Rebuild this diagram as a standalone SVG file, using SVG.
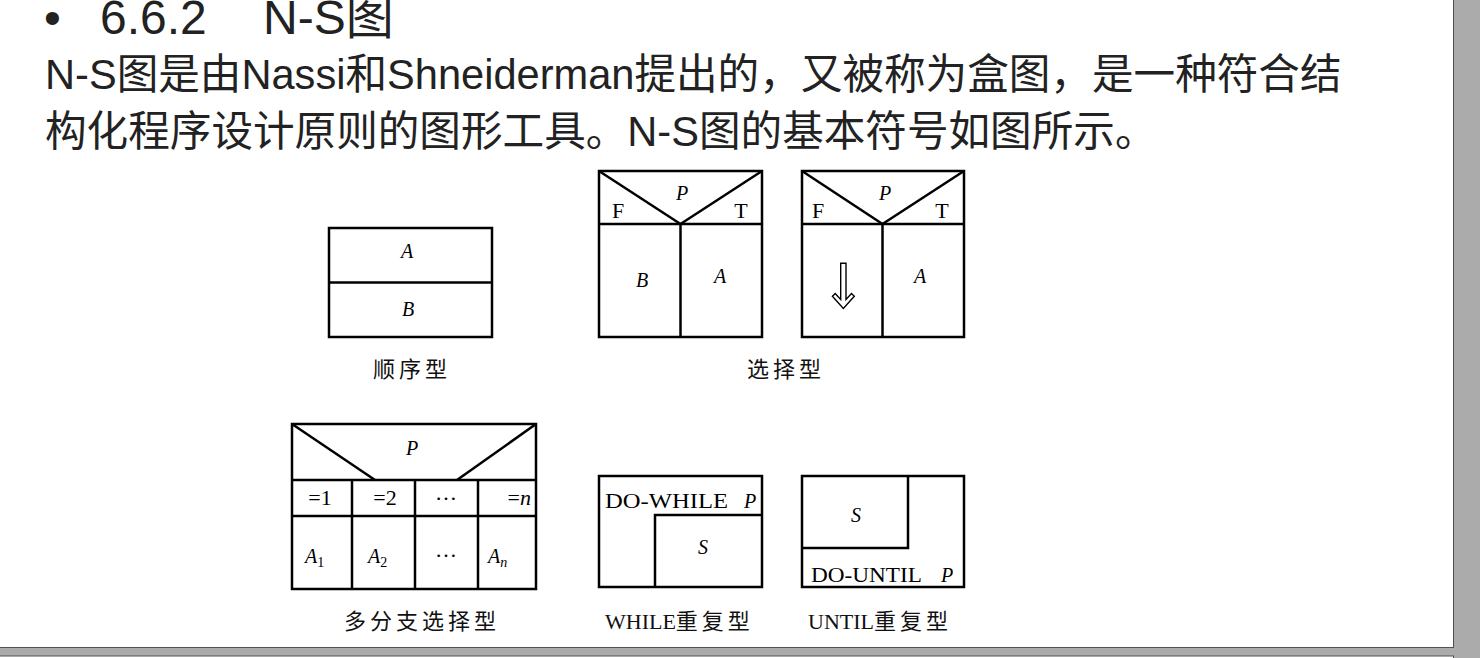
<svg xmlns="http://www.w3.org/2000/svg" width="1480" height="658" viewBox="0 0 1480 658">
  <style>
    .box { fill: none; stroke: #000; stroke-width: 2.5; }
    .ln { stroke: #000; stroke-width: 2.5; fill: none; }
    .it { font-family: "Liberation Serif", "DejaVu Serif", serif; font-style: italic; font-size: 20px; fill: #000; }
    .rm { font-family: "Liberation Serif", "DejaVu Serif", serif; font-size: 21px; fill: #000; }
    .ft { font-family: "Liberation Serif", "DejaVu Serif", serif; font-size: 22px; fill: #000; }
    .cap { font-family: "Liberation Serif", "Noto Sans CJK SC", serif; font-size: 22px; fill: #111; letter-spacing: 4px; }
    .lat { letter-spacing: 0px; }
    .head { font-family: "Liberation Sans", "Noto Sans CJK SC", sans-serif; font-size: 48px; fill: #222; }
    .body { font-family: "Liberation Sans", "Noto Sans CJK SC", sans-serif; font-size: 41.6px; fill: #222; }
  </style>

  <!-- page background and window frame -->
  <rect x="0" y="0" width="1480" height="658" fill="#ffffff"/>
  <rect x="1454" y="0" width="26" height="658" fill="#ababab"/>
  <rect x="0" y="648" width="1454" height="8" fill="#ababab"/>
  <line x1="1453.5" y1="0" x2="1453.5" y2="648" stroke="#505050" stroke-width="1"/>
  <line x1="0" y1="647.5" x2="1454" y2="647.5" stroke="#505050" stroke-width="1.2"/>
  <line x1="0" y1="656" x2="1454" y2="656" stroke="#505050" stroke-width="1"/>
  <line x1="1453.5" y1="656" x2="1453.5" y2="658" stroke="#505050" stroke-width="1"/>

  <!-- heading and paragraph -->
  <g id="title">
    <text class="head" y="34"><tspan x="44">•</tspan><tspan x="100">6.6.2</tspan><tspan x="263">N-S图</tspan></text>
    <text class="body" x="45" y="89">N-S图是由Nassi和Shneiderman提出的，又被称为盒图，是一种符合结</text>
    <text class="body" x="45" y="146">构化程序设计原则的图形工具。N-S图的基本符号如图所示。</text>
  </g>

  <!-- sequence structure -->
  <g id="sequence">
    <rect class="box" x="329" y="228" width="163" height="109"/>
    <line class="ln" x1="329" y1="282.5" x2="492" y2="282.5"/>
    <text class="it" x="407" y="258" text-anchor="middle">A</text>
    <text class="it" x="408" y="316" text-anchor="middle">B</text>
    <text class="cap" x="373" y="377">顺序型</text>
  </g>

  <!-- if-then-else selection -->
  <g id="selection-ab">
    <rect class="box" x="599" y="171" width="163" height="166"/>
    <line class="ln" x1="599" y1="224" x2="762" y2="224"/>
    <line class="ln" x1="680.5" y1="224" x2="680.5" y2="337"/>
    <line class="ln" x1="599" y1="171" x2="680.5" y2="224"/>
    <line class="ln" x1="762" y1="171" x2="680.5" y2="224"/>
    <text class="it" x="682" y="200" text-anchor="middle" font-size="21">P</text>
    <text class="ft" x="618" y="218" text-anchor="middle">F</text>
    <text class="ft" x="741" y="218" text-anchor="middle">T</text>
    <text class="it" x="642" y="287" text-anchor="middle">B</text>
    <text class="it" x="720" y="283" text-anchor="middle">A</text>
  </g>

  <!-- if-then selection with empty false branch -->
  <g id="selection-a">
    <rect class="box" x="802" y="171" width="162" height="166"/>
    <line class="ln" x1="802" y1="224" x2="964" y2="224"/>
    <line class="ln" x1="882.5" y1="224" x2="882.5" y2="337"/>
    <line class="ln" x1="802" y1="171" x2="882.5" y2="224"/>
    <line class="ln" x1="964" y1="171" x2="882.5" y2="224"/>
    <text class="it" x="885" y="200" text-anchor="middle" font-size="21">P</text>
    <text class="ft" x="818" y="218" text-anchor="middle">F</text>
    <text class="ft" x="942" y="218" text-anchor="middle">T</text>
    <text class="it" x="920" y="283" text-anchor="middle">A</text>
    <polygon points="840.7,263.3 846,263.3 846,299.5 851.5,293.5 854.3,296.3 843.35,308.5 832.4,296.3 835.2,293.5 840.7,299.5" fill="#fff" stroke="#000" stroke-width="1.4" stroke-linejoin="miter"/>
  </g>
  <text class="cap" x="747" y="377">选择型</text>

  <!-- multi-way selection -->
  <g id="case">
    <rect class="box" x="292" y="424" width="244" height="165"/>
    <line class="ln" x1="292" y1="480" x2="536" y2="480"/>
    <line class="ln" x1="292" y1="516" x2="536" y2="516"/>
    <line class="ln" x1="352" y1="480" x2="352" y2="589"/>
    <line class="ln" x1="415" y1="480" x2="415" y2="589"/>
    <line class="ln" x1="478" y1="480" x2="478" y2="589"/>
    <line class="ln" x1="292" y1="424" x2="375" y2="480"/>
    <line class="ln" x1="536" y1="424" x2="457" y2="480"/>
    <text class="it" x="412" y="455" text-anchor="middle" font-size="21">P</text>
    <text class="ft" x="320" y="505" text-anchor="middle">=1</text>
    <text class="ft" x="385" y="505" text-anchor="middle">=2</text>
    <text class="ft" x="446" y="500" text-anchor="middle">…</text>
    <text class="ft" x="531" y="505" text-anchor="end">=<tspan font-style="italic">n</tspan></text>
    <text class="it" x="305" y="563">A<tspan font-style="normal" font-size="14" dy="4">1</tspan></text>
    <text class="it" x="368" y="563">A<tspan font-style="normal" font-size="14" dy="4">2</tspan></text>
    <text class="ft" x="446" y="557" text-anchor="middle">…</text>
    <text class="it" x="488" y="563">A<tspan font-size="14" dy="4">n</tspan></text>
    <text class="cap" x="344" y="629">多分支选择型</text>
  </g>

  <!-- while loop -->
  <g id="while-loop">
    <rect class="box" x="599" y="476" width="163" height="111"/>
    <path class="ln" d="M655,587 V515 H762"/>
    <text class="rm" x="605" y="508" textLength="123" lengthAdjust="spacingAndGlyphs">DO-WHILE</text>
    <text class="it" x="744" y="508" font-size="21">P</text>
    <text class="it" x="703" y="554" text-anchor="middle">S</text>
    <text class="cap" x="605" y="629"><tspan class="lat">WHILE</tspan>重复型</text>
  </g>

  <!-- until loop -->
  <g id="until-loop">
    <rect class="box" x="802" y="476" width="162" height="111"/>
    <path class="ln" d="M802,548 H908 V476"/>
    <text class="it" x="856" y="522" text-anchor="middle">S</text>
    <text class="rm" x="811" y="582" textLength="111" lengthAdjust="spacingAndGlyphs">DO-UNTIL</text>
    <text class="it" x="941" y="582" font-size="21">P</text>
    <text class="cap" x="808" y="629"><tspan class="lat">UNTIL</tspan>重复型</text>
  </g>
</svg>
